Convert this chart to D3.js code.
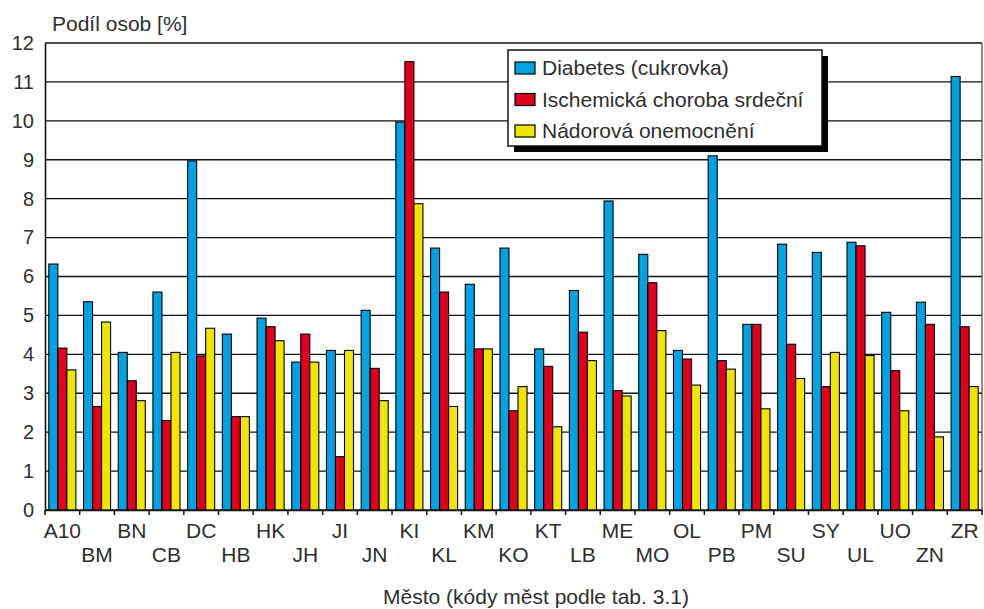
<!DOCTYPE html>
<html>
<head>
<meta charset="utf-8">
<script src="https://cdn.jsdelivr.net/npm/d3@7"></script>
<style>
  html, body { margin: 0; padding: 0; background: #fff; }
  svg { display: block; font-family: "Liberation Sans", Arial, sans-serif; }
</style>
</head>
<body>
<svg id="chart" width="984" height="609"></svg>
<script>
// City codes along the x axis
const cities = ["A10","BM","BN","CB","DC","HB","HK","JH","JI","JN","KI","KL","KM","KO",
                "KT","LB","ME","MO","OL","PB","PM","SU","SY","UL","UO","ZN","ZR"];

// Share of persons [%] for each disease group
const diabetes = [6.32,5.35,4.05,5.6,8.97,4.52,4.93,3.8,4.1,5.13,9.97,6.73,5.8,6.73,
                  4.14,5.64,7.94,6.57,4.1,9.1,4.77,6.83,6.62,6.88,5.08,5.34,11.14];
const ischemic = [4.16,2.66,3.32,2.3,3.96,2.4,4.71,4.52,1.37,3.64,11.52,5.6,4.14,2.55,
                  3.69,4.57,3.07,5.84,3.88,3.84,4.77,4.26,3.17,6.79,3.58,4.77,4.71];
const tumours  = [3.6,4.83,2.81,4.05,4.67,2.4,4.35,3.8,4.1,2.81,7.87,2.66,4.14,3.17,
                  2.14,3.84,2.93,4.61,3.21,3.62,2.6,3.38,4.05,3.97,2.55,1.88,3.17];

const seriesNames = ["Diabetes (cukrovka)", "Ischemická choroba srdeční", "Nádorová onemocnění"];
const seriesValues = [diabetes, ischemic, tumours];
const seriesColors = ["#00a3e2", "#e1001c", "#eee600"];
const yTicks = [0,1,2,3,4,5,6,7,8,9,10,11,12];

const yLabel = "Podíl osob [%]";
const xLabel = "Město (kódy měst podle tab. 3.1)";

const svg = d3.select("#chart");
const plotLeft = 45, plotRight = 982, plotTop = 43, plotBottom = 510;
const textColor = "#2e2e2e";

const x = d3.scaleBand().domain(cities).range([plotLeft, plotRight]).padding(0);
const x1 = d3.scaleBand().domain(d3.range(seriesNames.length))
  .range([x.bandwidth() * 0.11, x.bandwidth() * 0.89]).padding(0);
const y = d3.scaleLinear().domain([0, 12]).range([plotBottom, plotTop]);

// Horizontal gridlines
svg.append("g")
  .selectAll("line")
  .data(yTicks)
  .join("line")
  .attr("x1", plotLeft).attr("x2", plotRight)
  .attr("y1", d => y(d)).attr("y2", d => y(d))
  .attr("stroke", "#111").attr("stroke-width", 1.4);

// Right border of the plot
svg.append("line")
  .attr("x1", plotRight).attr("x2", plotRight).attr("y1", plotTop).attr("y2", plotBottom)
  .attr("stroke", "#444").attr("stroke-width", 1.2);

// Grouped bars
const groups = svg.append("g")
  .selectAll("g")
  .data(cities.map((c, i) => ({ city: c, values: seriesValues.map(s => s[i]) })))
  .join("g")
  .attr("transform", d => `translate(${x(d.city)},0)`);

groups.selectAll("rect")
  .data(d => d.values.map((v, k) => ({ k, v })))
  .join("rect")
  .attr("x", d => x1(d.k))
  .attr("width", x1.bandwidth())
  .attr("y", d => y(d.v))
  .attr("height", d => y(0) - y(d.v))
  .attr("fill", d => seriesColors[d.k])
  .attr("stroke", "#000")
  .attr("stroke-width", 1.1);

// Y axis: line and labels
const yAxis = svg.append("g")
  .attr("transform", `translate(${plotLeft},0)`)
  .call(d3.axisLeft(y).tickValues(yTicks).tickSize(0).tickPadding(11));
yAxis.select(".domain").attr("stroke", "#111").attr("stroke-width", 1.6);
yAxis.selectAll("text")
  .attr("font-size", 20)
  .attr("font-family", "'Liberation Sans', Arial, sans-serif")
  .attr("fill", textColor);

// X axis: baseline, boundary ticks and staggered city codes
const xAxis = svg.append("g")
  .attr("transform", `translate(0,${plotBottom})`)
  .call(d3.axisBottom(x).tickSize(0).tickPadding(0));
xAxis.select(".domain").attr("stroke", "#111").attr("stroke-width", 1.6);
xAxis.selectAll(".tick text")
  .attr("font-size", 21)
  .attr("font-family", "'Liberation Sans', Arial, sans-serif")
  .attr("fill", textColor)
  .attr("dy", null)
  .attr("y", (d, i) => (i % 2 === 0 ? 28 : 52));

svg.append("g")
  .selectAll("line")
  .data(cities.concat([null]))
  .join("line")
  .attr("x1", d => d === null ? plotRight : x(d))
  .attr("x2", d => d === null ? plotRight : x(d))
  .attr("y1", plotBottom).attr("y2", plotBottom + 5)
  .attr("stroke", "#111").attr("stroke-width", 1.5);

// Axis titles
svg.append("text")
  .attr("x", 52).attr("y", 31)
  .attr("font-size", 21)
  .attr("fill", textColor)
  .text(yLabel);

svg.append("text")
  .attr("x", 536).attr("y", 604)
  .attr("text-anchor", "middle")
  .attr("font-size", 21)
  .attr("fill", textColor)
  .text(xLabel);

// Legend with drop shadow
const lg = { x: 508, y: 50, w: 314, h: 96 };
svg.append("rect")
  .attr("x", lg.x + 6).attr("y", lg.y + 6)
  .attr("width", lg.w).attr("height", lg.h)
  .attr("fill", "#000");
svg.append("rect")
  .attr("x", lg.x).attr("y", lg.y)
  .attr("width", lg.w).attr("height", lg.h)
  .attr("fill", "#fff").attr("stroke", "#111").attr("stroke-width", 1.5);

const items = svg.append("g")
  .selectAll("g")
  .data(seriesNames)
  .join("g")
  .attr("transform", (d, i) => `translate(${lg.x + 7},${lg.y + 12 + i * 31.5})`);
items.append("rect")
  .attr("width", 20).attr("height", 12)
  .attr("fill", (d, i) => seriesColors[i])
  .attr("stroke", "#000").attr("stroke-width", 1.2);
items.append("text")
  .attr("x", 27).attr("y", 13)
  .attr("font-size", 21)
  .attr("fill", textColor)
  .text(d => d);
</script>
</body>
</html>
